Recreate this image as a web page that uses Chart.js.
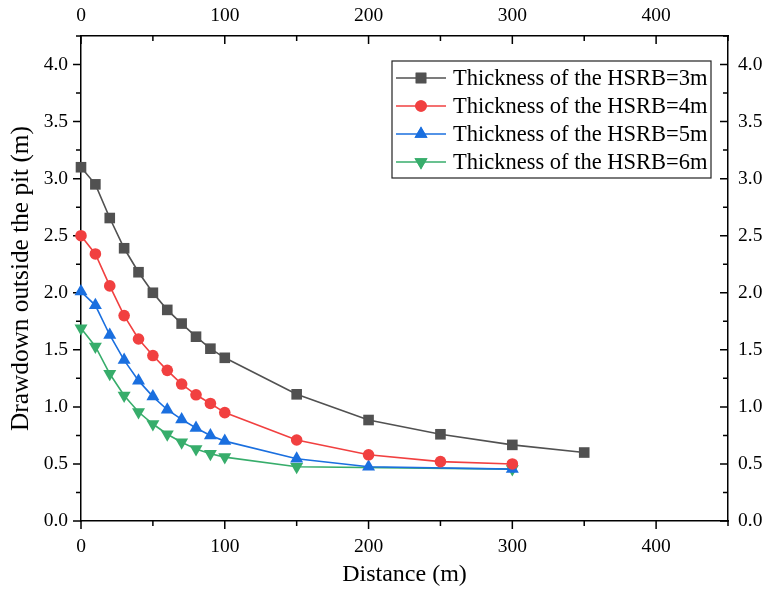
<!DOCTYPE html>
<html><head><meta charset="utf-8">
<script src="https://cdn.jsdelivr.net/npm/chart.js@4/dist/chart.umd.min.js"></script>
<style>html,body{margin:0;padding:0;background:#fff}</style>
</head><body>
<canvas id="c" width="769" height="592"></canvas>
<script>
const seriesLabels = ['Thickness of the HSRB=3m','Thickness of the HSRB=4m','Thickness of the HSRB=5m','Thickness of the HSRB=6m'];
const distance3 = [0,10,20,30,40,50,60,70,80,90,100,150,200,250,300,350];
const drawdown3 = [3.10,2.95,2.655,2.39,2.18,2.00,1.85,1.73,1.615,1.51,1.43,1.11,0.885,0.76,0.667,0.60];
const distance4 = [0,10,20,30,40,50,60,70,80,90,100,150,200,250,300];
const drawdown4 = [2.50,2.34,2.06,1.80,1.595,1.45,1.32,1.20,1.106,1.03,0.95,0.71,0.58,0.52,0.50];
const distance5 = [0,10,20,30,40,50,60,70,80,90,100,150,200,300];
const drawdown5 = [2.01,1.89,1.63,1.41,1.23,1.09,0.975,0.89,0.815,0.75,0.70,0.545,0.475,0.455];
const distance6 = [0,10,20,30,40,50,60,70,80,90,100,150,300];
const drawdown6 = [1.69,1.53,1.29,1.10,0.955,0.85,0.76,0.69,0.63,0.59,0.56,0.475,0.455];
const xTicks = [0,100,200,300,400];
const yTicks = [0,0.5,1,1.5,2,2.5,3,3.5,4];

const colors = ['#515151','#F14040','#1A6FDF','#37AD6B'];
const styles = [
  {pointStyle:'rect', radius:7.5, rotation:0},
  {pointStyle:'circle', radius:5.8, rotation:0},
  {pointStyle:'triangle', radius:7.5, rotation:0},
  {pointStyle:'triangle', radius:7.5, rotation:180}
];
const xs = [distance3,distance4,distance5,distance6];
const ys = [drawdown3,drawdown4,drawdown5,drawdown6];
const FONT = "'Liberation Serif', 'Times New Roman', serif";

const datasets = seriesLabels.map((lab,i)=>({
  label: lab,
  data: xs[i].map((x,j)=>({x:x, y:ys[i][j]})),
  borderColor: colors[i], backgroundColor: colors[i],
  pointBackgroundColor: colors[i], pointBorderColor: colors[i],
  borderWidth: 1.6, tension: 0,
  pointStyle: styles[i].pointStyle, pointRadius: styles[i].radius,
  pointRotation: styles[i].rotation, pointBorderWidth: 0,
  clip: false
}));

const tickFont = {family: FONT, size: 19.5};
const titleFont = {family: FONT, size: 24};
const yTitleFont = {family: FONT, size: 25.3};

const tickPlugin = {
  id: 'ticksPlugin',
  beforeDatasetsDraw(chart){
    const ctx = chart.ctx, a = chart.chartArea;
    const sx = chart.scales.x, sy = chart.scales.y;
    ctx.save(); ctx.strokeStyle = '#000'; ctx.lineWidth = 1.5;
    ctx.beginPath();
    for (let v = 0; v <= 450; v += 50) {
      const len = (v % 100 === 0) ? 8 : 5;
      const px = sx.getPixelForValue(v);
      ctx.moveTo(px, a.bottom); ctx.lineTo(px, a.bottom + len);
      ctx.moveTo(px, a.top); ctx.lineTo(px, a.top + len);
    }
    for (let k = 0; k <= 17; k++) {
      const v = k * 0.25;
      const len = (k % 2 === 0) ? 8 : 5;
      const py = sy.getPixelForValue(v);
      ctx.moveTo(a.left - len, py); ctx.lineTo(a.left, py);
      ctx.moveTo(a.right - len, py); ctx.lineTo(a.right, py);
    }
    ctx.stroke(); ctx.restore();
  }
};

const legendPlugin = {
  id: 'boxLegend',
  afterDraw(chart){
    const ctx = chart.ctx, a = chart.chartArea;
    const right = a.right - 17, top = a.top + 25, left = right - 319, rowH = 28;
    const bottom = top + 4 * rowH + 5;
    ctx.save();
    ctx.fillStyle = '#fff';
    ctx.fillRect(left, top, right - left, bottom - top);
    ctx.strokeStyle = '#222'; ctx.lineWidth = 1.2;
    ctx.strokeRect(left, top, right - left, bottom - top);
    chart.data.datasets.forEach((ds, i) => {
      const cy = top + 17 + i * rowH;
      ctx.strokeStyle = ds.borderColor; ctx.lineWidth = 1.6;
      ctx.beginPath(); ctx.moveTo(left + 4, cy); ctx.lineTo(left + 54, cy); ctx.stroke();
      ctx.fillStyle = ds.borderColor;
      Chart.helpers.drawPoint(ctx, {pointStyle: ds.pointStyle, rotation: ds.pointRotation, radius: ds.pointRadius, borderWidth: 0}, left + 29, cy);
      ctx.fill();
      ctx.fillStyle = '#000';
      ctx.font = "22.5px " + FONT;
      ctx.textBaseline = 'middle'; ctx.textAlign = 'left';
      ctx.fillText(ds.label, left + 61, cy + 1);
    });
    ctx.restore();
  }
};

const commonX = {
  type: 'linear', min: 0, max: 450,
  afterBuildTicks(s){ s.ticks = xTicks.map(v=>({value:v})); },
  grid: {display: false, drawTicks: false},
  border: {display: true, color: '#000', width: 1.5}
};
const commonY = {
  type: 'linear', min: 0, max: 4.25,
  afterBuildTicks(s){ s.ticks = yTicks.map(v=>({value:v})); },
  grid: {display: false, drawTicks: false},
  border: {display: true, color: '#000', width: 1.5}
};

new Chart(document.getElementById('c'), {
  type: 'line',
  data: {datasets},
  options: {
    responsive: false, animation: false, devicePixelRatio: 1,
    layout: {padding: 0},
    plugins: {legend: {display: false}, tooltip: {enabled: false}},
    scales: {
      x: Object.assign({}, commonX, {
        position: 'bottom',
        ticks: {font: tickFont, color: '#000', padding: 14, maxRotation: 0, autoSkip: false, callback: v => String(v)},
        title: {display: true, text: 'Distance (m)', font: titleFont, color: '#000', padding: {top: 0, bottom: 3}},
        afterFit(s){ s.height = 71; }
      }),
      x2: Object.assign({}, commonX, {
        axis: 'x', position: 'top',
        ticks: {font: tickFont, color: '#000', padding: 8, maxRotation: 0, autoSkip: false, callback: v => String(v)},
        afterFit(s){ s.height = 36; }
      }),
      y: Object.assign({}, commonY, {
        position: 'left',
        ticks: {font: tickFont, color: '#000', padding: 13, autoSkip: false, callback: v => Number(v).toFixed(1)},
        title: {display: true, text: 'Drawdown outside the pit (m)', font: yTitleFont, color: '#000', padding: {top: 6, bottom: 0}},
        afterFit(s){ s.width = 81; }
      }),
      y2: Object.assign({}, commonY, {
        axis: 'y', position: 'right',
        ticks: {font: tickFont, color: '#000', padding: 10, autoSkip: false, callback: v => Number(v).toFixed(1)},
        afterFit(s){ s.width = 41; }
      })
    }
  },
  plugins: [tickPlugin, legendPlugin]
});
</script>
</body></html>
